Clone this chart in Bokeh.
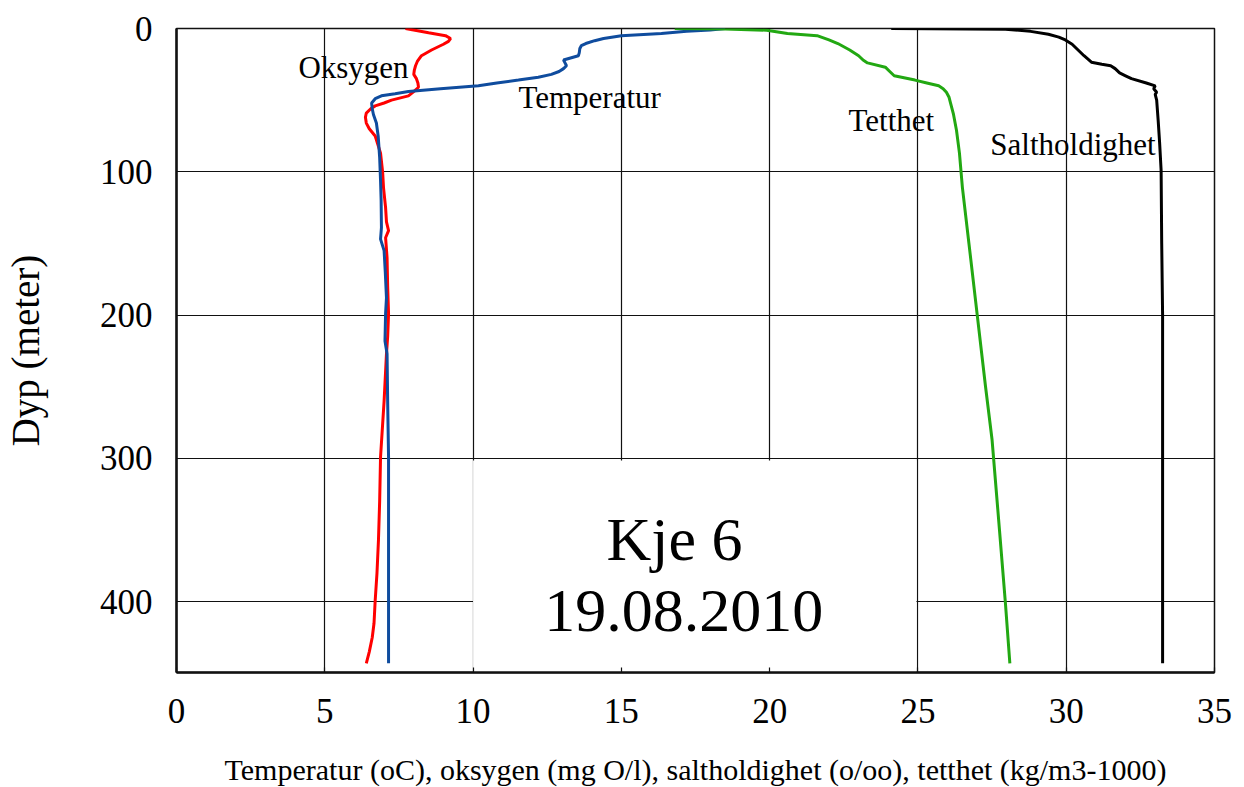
from bokeh.plotting import figure
from bokeh.models import Range1d, FixedTicker
from bokeh.core.properties import value
from bokeh.embed import file_html
from bokeh.resources import INLINE

# ---- data (depth in metres, value on shared x axis) ----
oxy_depth = [0, 3, 5, 7, 9, 11, 15, 19, 23, 26, 29, 32, 35, 38, 41, 44, 47, 50, 52, 54,
             56, 59, 62, 66, 70, 75, 87, 100, 111, 125, 135, 141, 146, 160, 180, 199, 215, 227, 260, 299,
             330, 357, 380, 399, 415, 425, 435, 443]
oxy_val = [7.72, 8.5, 9.07, 9.24, 9.17, 9.0, 8.6, 8.26, 8.12, 8.06, 8.02, 8.0, 8.09, 8.14, 8.16, 8.0, 7.82, 7.25, 7.0, 6.7,
           6.55, 6.4, 6.37, 6.4, 6.5, 6.7, 6.88, 6.95, 6.98, 7.05, 7.08, 7.15, 7.05, 7.1, 7.12, 7.15, 7.12, 7.08, 7.0, 6.88,
           6.85, 6.81, 6.76, 6.7, 6.66, 6.6, 6.5, 6.4]

temp_depth = [0, 1, 2, 3.5, 5, 7, 8.5, 10.5, 12, 14, 17, 19, 22, 24, 26, 28, 30, 32, 34, 36,
              38, 40, 42, 44, 45.5, 47, 49, 52, 56, 60, 66, 75, 90, 106, 120, 139, 147, 155, 170, 188,
              199, 218, 227, 260, 299, 350, 400, 443]
temp_val = [18.5, 18.0, 17.2, 16.35, 15.0, 14.4, 14.1, 13.8, 13.65, 13.6, 13.58, 13.55, 13.05, 13.1, 13.15, 13.05, 12.9, 12.64, 12.2, 11.53,
            10.8, 10.18, 8.9, 7.82, 7.37, 6.91, 6.7, 6.58, 6.6, 6.64, 6.74, 6.8, 6.85, 6.88, 6.9, 6.91, 6.88, 7.0, 7.04, 7.08,
            7.05, 7.03, 7.1, 7.12, 7.15, 7.15, 7.15, 7.15]

dens_depth = [0, 0.3, 1.2, 3.5, 5, 8, 10.5, 15, 19, 22, 24, 27, 30, 33, 36, 38, 40, 42, 44.5, 48,
              52, 60, 71, 87, 111, 150, 200, 250, 287, 350, 401, 443]
dens_val = [16.8, 18.5, 19.9, 20.6, 21.6, 22.0, 22.3, 22.7, 23.0, 23.15, 23.3, 23.9, 24.05, 24.2, 24.9, 25.3, 25.7, 25.85, 25.96, 26.05,
            26.1, 26.2, 26.3, 26.4, 26.5, 26.72, 27.0, 27.28, 27.5, 27.75, 27.95, 28.1]

sal_depth = [0, 0.5, 2, 4, 6, 8, 11, 15, 19, 23.5, 25, 26, 28, 31, 33, 35, 38, 40, 42, 44.5,
             46, 50, 64, 80, 99, 150, 200, 300, 400, 443]
sal_val = [24.1, 27.95, 28.8, 29.4, 29.75, 29.97, 30.2, 30.4, 30.6, 30.85, 31.2, 31.5, 31.65, 31.8, 32.0, 32.2, 32.7, 33.0, 32.95, 33.05,
           33.0, 33.05, 33.1, 33.15, 33.2, 33.22, 33.25, 33.25, 33.25, 33.25]

x_ticks = [0, 5, 10, 15, 20, 25, 30, 35]
y_ticks = [0, 100, 200, 300, 400]

series_labels = ["Oksygen", "Temperatur", "Tetthet", "Saltholdighet"]
label_x = [4.11, 11.53, 22.66, 27.44]
label_y = [27.0, 48.1, 64.2, 81.0]

title_lines = ["Kje 6", "19.08.2010"]
title_x = [16.79, 17.1]
title_y = [356.3, 406.5]

FONT = "'Liberation Serif', 'Times New Roman', serif"

p = figure(frame_width=1038, frame_height=644,
           min_border_left=174, min_border_right=20, min_border_top=28, min_border_bottom=100,
           x_range=Range1d(0, 35), y_range=Range1d(449.4, 0),
           output_backend="svg", toolbar_location=None, background_fill_color="white",
           border_fill_color="white")

p.outline_line_color = "#111111"
p.outline_line_width = 1.5

for ax, ticks in ((p.xaxis[0], x_ticks), (p.yaxis[0], y_ticks)):
    ax.ticker = FixedTicker(ticks=ticks)
    ax.major_tick_in = 5
    ax.major_tick_out = 0
    ax.minor_tick_in = 0
    ax.minor_tick_out = 0
    ax.axis_line_color = "#111111"
    ax.axis_line_width = 2.5
    ax.major_tick_line_color = "#111111"
    ax.major_tick_line_width = 1.2
    ax.major_label_text_font = FONT
    ax.major_label_text_font_size = "35px"
    ax.major_label_text_color = "black"
    ax.axis_label_text_font = FONT
    ax.axis_label_text_font_style = "normal"
    ax.axis_label_text_color = "black"

p.xaxis.axis_label = "Temperatur (oC), oksygen (mg O/l), saltholdighet (o/oo), tetthet (kg/m3-1000)"
p.xaxis.axis_label_text_font_size = "30px"
p.xaxis.major_label_standoff = 26
p.xaxis.axis_label_standoff = 27

p.yaxis.axis_label = "Dyp (meter)"
p.yaxis.axis_label_text_font_size = "39px"
p.yaxis.major_label_standoff = 24
p.yaxis.axis_label_standoff = 50

p.xgrid.ticker = FixedTicker(ticks=x_ticks)
p.ygrid.ticker = FixedTicker(ticks=y_ticks)
for g in (p.xgrid[0], p.ygrid[0]):
    g.grid_line_color = "#111111"
    g.grid_line_width = 1.2

# white backing box behind the station title
p.quad(left=[10], right=[24.95], top=[301.5], bottom=[449.4],
       fill_color="white", line_color=None)

p.line(oxy_val, oxy_depth, line_color="#FF0000", line_width=3)
p.line(temp_val, temp_depth, line_color="#0F4C9E", line_width=3)
p.line(dens_val, dens_depth, line_color="#22A812", line_width=3)
p.line(sal_val, sal_depth, line_color="#000000", line_width=3)

p.text(x=label_x, y=label_y, text=series_labels, text_font=value(FONT),
       text_font_size="31px", text_color="black", text_align="left",
       text_baseline="alphabetic")

p.text(x=title_x, y=title_y, text=title_lines, text_font=value(FONT),
       text_font_size="62px", text_color="black", text_align="center",
       text_baseline="alphabetic")

open("out.html", "w").write(file_html(p, INLINE))
